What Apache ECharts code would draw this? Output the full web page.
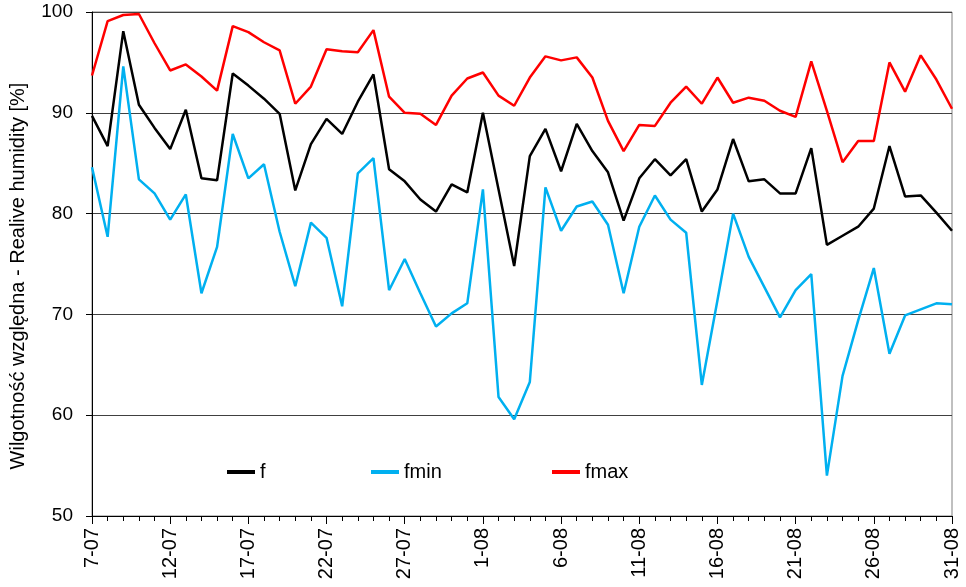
<!DOCTYPE html>
<html>
<head>
<meta charset="utf-8">
<style>
  html, body { margin: 0; padding: 0; background: #fff; }
  #chart { width: 966px; height: 587px; }
</style>
<script src="https://cdn.jsdelivr.net/npm/echarts@6/dist/echarts.min.js"></script>
</head>
<body>
<div id="chart"></div>
<script>
// Daily relative humidity, 7 July – 31 August
const days = [
  '7-07','8-07','9-07','10-07','11-07','12-07','13-07','14-07','15-07','16-07',
  '17-07','18-07','19-07','20-07','21-07','22-07','23-07','24-07','25-07','26-07',
  '27-07','28-07','29-07','30-07','31-07',
  '1-08','2-08','3-08','4-08','5-08','6-08','7-08','8-08','9-08','10-08',
  '11-08','12-08','13-08','14-08','15-08','16-08','17-08','18-08','19-08','20-08',
  '21-08','22-08','23-08','24-08','25-08','26-08','27-08','28-08','29-08','30-08','31-08'
];

// mean daily humidity
const f = [
  89.7, 86.7, 98.1, 90.8, 88.5, 86.4, 90.3, 83.5, 83.3, 93.9,
  92.7, 91.4, 89.9, 82.3, 86.9, 89.4, 87.9, 91.1, 93.8, 84.4,
  83.2, 81.4, 80.2, 82.9, 82.1,
  90.0, 82.4, 74.8, 85.7, 88.4, 84.2, 88.9, 86.2, 84.1, 79.3,
  83.5, 85.4, 83.8, 85.4, 80.2, 82.4, 87.4, 83.2, 83.4, 82.0,
  82.0, 86.5, 76.9, 77.8, 78.7, 80.5, 86.7, 81.7, 81.8, 80.1, 78.3
];

// daily minimum
const fmin = [
  84.6, 77.7, 94.6, 83.4, 82.0, 79.4, 81.9, 72.1, 76.7, 87.9,
  83.5, 84.9, 78.2, 72.8, 79.1, 77.6, 70.8, 84.0, 85.5, 72.4,
  75.5, 72.1, 68.8, 70.1, 71.1,
  82.4, 61.8, 59.6, 63.3, 82.6, 78.3, 80.7, 81.2, 78.9, 72.1,
  78.7, 81.8, 79.4, 78.1, 63.0, 71.4, 80.0, 75.7, 72.7, 69.7,
  72.4, 74.0, 54.0, 63.9, 69.4, 74.6, 66.1, 69.9, 70.5, 71.1, 71.0
];

// daily maximum
const fmax = [
  93.7, 99.1, 99.7, 99.8, 96.9, 94.2, 94.8, 93.6, 92.2, 98.6,
  98.0, 97.0, 96.2, 90.9, 92.6, 96.3, 96.1, 96.0, 98.2, 91.6,
  90.0, 89.9, 88.8, 91.7, 93.4,
  94.0, 91.7, 90.7, 93.5, 95.6, 95.2, 95.5, 93.5, 89.2, 86.2,
  88.8, 88.7, 91.0, 92.6, 90.9, 93.5, 91.0, 91.5, 91.2, 90.2,
  89.6, 95.1, 90.2, 85.1, 87.2, 87.2, 95.0, 92.1, 95.7, 93.3, 90.4
];

const yTicks = [50, 60, 70, 80, 90, 100];

const FONT = '"Liberation Sans", Arial, sans-serif';
const chart = echarts.init(document.getElementById('chart'), null, { renderer: 'canvas' });

function legendAt(name, left) {
  return {
    data: [name],
    left: left,
    top: 457,
    icon: 'rect',
    itemWidth: 28,
    itemHeight: 4,
    textStyle: { fontFamily: FONT, fontSize: 20, color: '#000' }
  };
}

chart.setOption({
  animation: false,
  backgroundColor: '#fff',
  grid: {
    left: 92, right: 14, top: 12, bottom: 71,
    show: true, borderColor: '#808080', borderWidth: 1
  },
  legend: [legendAt('f', 222), legendAt('fmin', 366), legendAt('fmax', 547)],
  xAxis: [
    {
      type: 'category',
      data: days,
      boundaryGap: false,
      axisLine: { lineStyle: { color: '#000', width: 1 } },
      axisTick: { interval: 0, length: 5, lineStyle: { color: '#000' } },
      axisLabel: {
        interval: 4, rotate: 90, margin: 12,
        fontFamily: FONT, fontSize: 20, color: '#000'
      },
      splitLine: { show: false }
    },
    {
      // longer ticks at labelled days
      type: 'category',
      data: days,
      position: 'bottom',
      boundaryGap: false,
      axisLine: { show: false },
      axisTick: { interval: 4, length: 8, lineStyle: { color: '#000' } },
      axisLabel: { show: false },
      splitLine: { show: false }
    }
  ],
  yAxis: {
    type: 'value',
    min: yTicks[0],
    max: yTicks[yTicks.length - 1],
    interval: 10,
    name: 'Wilgotność względna - Realive humidity [%]',
    nameLocation: 'middle',
    nameGap: 64,
    nameTextStyle: { fontFamily: FONT, fontSize: 20, color: '#000', padding: [0, 24, 0, 0] },
    axisLine: { show: true, lineStyle: { color: '#000', width: 1 } },
    axisTick: { show: true, length: 6, lineStyle: { color: '#000' } },
    axisLabel: { margin: 19, fontFamily: FONT, fontSize: 19, color: '#000' },
    splitLine: { show: true, lineStyle: { color: '#404040', width: 1 } }
  },
  series: [
    {
      name: 'f', type: 'line', data: f, showSymbol: false, symbol: 'none',
      lineStyle: { color: '#000000', width: 2.5 }, itemStyle: { color: '#000000' }
    },
    {
      name: 'fmin', type: 'line', data: fmin, showSymbol: false, symbol: 'none',
      lineStyle: { color: '#00B0F0', width: 2.5 }, itemStyle: { color: '#00B0F0' }
    },
    {
      name: 'fmax', type: 'line', data: fmax, showSymbol: false, symbol: 'none',
      lineStyle: { color: '#FF0000', width: 2.5 }, itemStyle: { color: '#FF0000' }
    }
  ]
});
</script>
</body>
</html>
